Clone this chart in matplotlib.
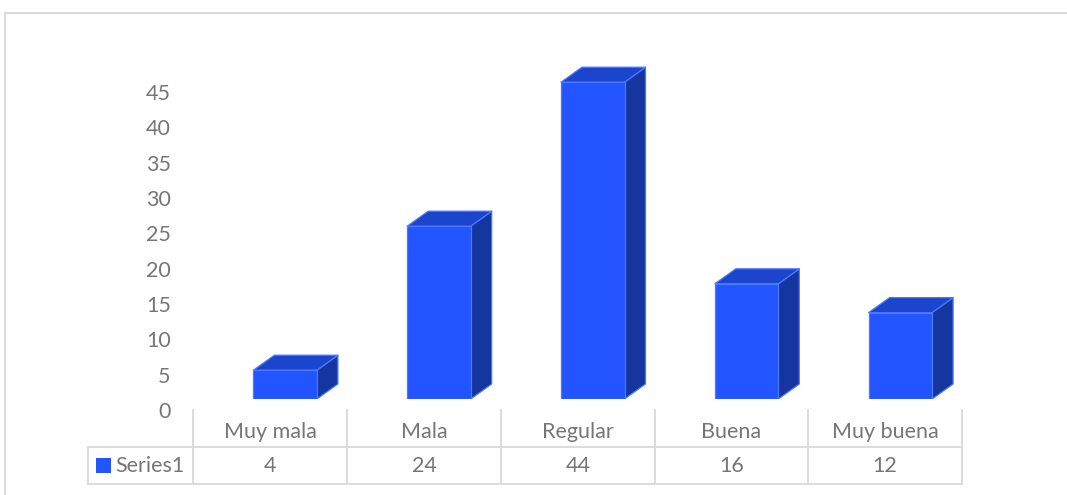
import matplotlib
matplotlib.use("Agg")
import matplotlib.pyplot as plt
from matplotlib.patches import Polygon, Rectangle
from matplotlib.lines import Line2D

categories = ["Muy mala", "Mala", "Regular", "Buena", "Muy buena"]
values = [4, 24, 44, 16, 12]
series_name = "Series1"
y_ticks = [0, 5, 10, 15, 20, 25, 30, 35, 40, 45]

W, H = 1067, 495
fig = plt.figure(figsize=(W / 100, H / 100), dpi=100)
fig.patch.set_facecolor("white")

FONT = ["Lato", "DejaVu Sans"]
TXT = "#767676"
GRID = "#d9d9d9"
FRONT = "#2255ff"
TOP = "#1b45cf"
SIDE = "#15359f"
EDGE = "#4a78ff"
FS = 15.5


def fx(px):
    return px / W


def fy(py):
    return 1 - py / H


# column boundaries of the data table (pixels)
col_left, col_right = 193, 962
row_top, row_mid, row_bot = 410, 447, 484
key_left = 88

# axis carrying the value labels
ax_t = fig.add_axes([fx(col_left), fy(410), fx(col_right - col_left), (410 - 92) / H])
ax_t.set_xlim(-0.5, len(categories) - 0.5)
ax_t.set_ylim(0, 45)
ax_t.set_yticks(y_ticks)
ax_t.set_yticklabels([str(t) for t in y_ticks], fontsize=FS, color=TXT, family=FONT)
ax_t.tick_params(axis="y", length=0, pad=16)
ax_t.set_xticks([])
for s in ax_t.spines.values():
    s.set_visible(False)
ax_t.patch.set_alpha(0)

# axis carrying the 3D columns
px_per_unit = 7.2
base_px = 399
ax = fig.add_axes([fx(col_left), fy(base_px), fx(col_right - col_left), 50 * px_per_unit / H])
ax.set_xlim(-0.5, len(categories) - 0.5)
ax.set_ylim(0, 50)
ax.axis("off")
ax.patch.set_alpha(0)

col_w_px = (col_right - col_left) / len(categories)
off_l = -16.5 / col_w_px
bar_w = 63.5 / col_w_px
dx = 21 / col_w_px
dy = 15 / px_per_unit

for i, v in enumerate(values):
    xl = i + off_l
    xr = xl + bar_w
    side = Polygon([(xr, 0), (xr + dx, dy), (xr + dx, v + dy), (xr, v)],
                   closed=True, facecolor=SIDE, edgecolor=EDGE, lw=0.9, joinstyle="round")
    top = Polygon([(xl, v), (xr, v), (xr + dx, v + dy), (xl + dx, v + dy)],
                  closed=True, facecolor=TOP, edgecolor=EDGE, lw=0.9, joinstyle="round")
    front = Rectangle((xl, 0), bar_w, v, facecolor=FRONT, edgecolor=EDGE, lw=0.9)
    for p in (side, top, front):
        ax.add_patch(p)

# data table
lw = 1.3
bounds = [193, 347, 501, 655, 808, 962]
for b in bounds:
    fig.add_artist(Line2D([fx(b), fx(b)], [fy(row_top), fy(row_bot)], color=GRID, lw=lw))
fig.add_artist(Line2D([fx(key_left), fx(key_left)], [fy(row_mid), fy(row_bot)], color=GRID, lw=lw))
for r in (row_mid, row_bot):
    fig.add_artist(Line2D([fx(key_left), fx(col_right)], [fy(r), fy(r)], color=GRID, lw=lw))

for i, (c, v) in enumerate(zip(categories, values)):
    cx = (bounds[i] + bounds[i + 1]) / 2
    fig.text(fx(cx), fy(432), c, ha="center", va="center", fontsize=FS, color=TXT, family=FONT)
    fig.text(fx(cx), fy(465.5), str(v), ha="center", va="center", fontsize=FS, color=TXT, family=FONT)

fig.add_artist(Rectangle((fx(96), fy(473)), fx(15), 15 / H, facecolor=FRONT, edgecolor="none"))
fig.text(fx(115), fy(465.5), series_name, ha="left", va="center", fontsize=FS, color=TXT, family=FONT)

# chart frame
fig.add_artist(Line2D([fx(4.5), fx(4.5)], [fy(12.5), 0], color=GRID, lw=1.4))
fig.add_artist(Line2D([fx(4.5), fx(1066)], [fy(12.5), fy(12.5)], color=GRID, lw=1.4))

fig.savefig("out.png", dpi=100, facecolor="white")
